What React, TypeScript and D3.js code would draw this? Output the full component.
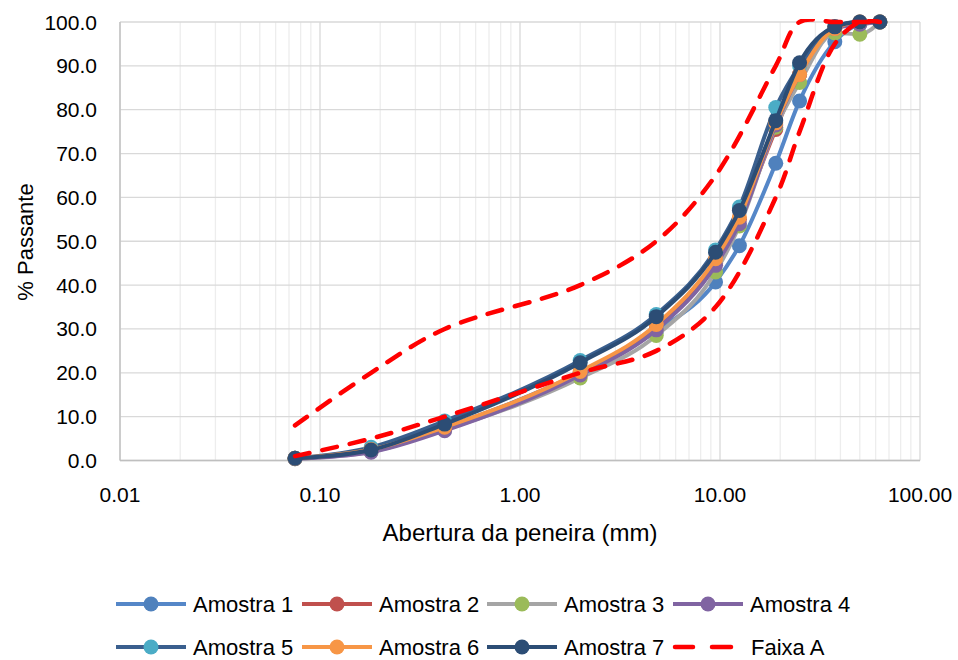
import React from "react";
import * as d3 from "d3";

// sieve openings (mm) and % passing for each sample
const sieves = [0.075, 0.18, 0.42, 2.0, 4.8, 9.5, 12.5, 19, 25, 37.5, 50, 63];
const amostra1 = [0.5, 2.2, 7.5, 20.0, 29.5, 40.7, 49.0, 67.8, 82.0, 95.5, 99.5, 100];
const amostra2 = [0.5, 2.3, 7.5, 20.0, 30.0, 45.0, 55.0, 75.5, 88.0, 98.5, 100, 100];
const amostra3 = [0.4, 2.0, 7.0, 18.8, 28.5, 43.0, 53.5, 76.0, 86.2, 97.5, 97.2, 100];
const amostra4 = [0.4, 1.9, 6.8, 19.5, 29.8, 44.5, 54.0, 76.5, 88.0, 98.5, 99.5, 100];
const amostra5 = [0.5, 3.0, 9.0, 22.8, 33.3, 48.0, 57.8, 80.5, 90.0, 99.0, 100, 100];
const amostra6 = [0.5, 2.5, 7.6, 20.3, 31.0, 46.0, 55.5, 77.0, 88.0, 98.5, 100, 100];
const amostra7 = [0.5, 2.4, 8.3, 22.3, 32.8, 47.5, 57.0, 77.5, 90.7, 98.9, 100, 100];

// Faixa A limits (no value for 12.5 mm)
const faixaSieves = [0.075, 0.18, 0.42, 2.0, 4.8, 9.5, 19, 25, 37.5, 50, 63];
const faixaMax = [8, 20, 30, 40, 50, 65, 90, 100, 100, 100, 100];
const faixaMin = [1, 5, 10, 20, 25, 35, 60, 75, 95, 100, 100];

const yTicks = [0, 10, 20, 30, 40, 50, 60, 70, 80, 90, 100];
const xTicks = [0.01, 0.1, 1, 10, 100];

const series = [
  { name: "Amostra 1", values: amostra1, line: "#5587c8", marker: "#4f81bd" },
  { name: "Amostra 2", values: amostra2, line: "#c0504d", marker: "#c0504d" },
  { name: "Amostra 3", values: amostra3, line: "#a5a5a5", marker: "#9bbb59" },
  { name: "Amostra 4", values: amostra4, line: "#8064a2", marker: "#8064a2" },
  { name: "Amostra 5", values: amostra5, line: "#3a5f8e", marker: "#4bacc6" },
  { name: "Amostra 6", values: amostra6, line: "#f79646", marker: "#f79646" },
  { name: "Amostra 7", values: amostra7, line: "#2c4d75", marker: "#2c4d75" },
];

const FONT = "'Liberation Sans', Arial, sans-serif";

export default function App() {
  const left = 120, right = 920, top = 22, bottom = 460.5;

  const x = d3.scaleLog().domain([0.01, 100]).range([left, right]);
  const y = d3.scaleLinear().domain([0, 100]).range([bottom, top]);

  const line = d3.line<[number, number]>()
    .x(d => x(d[0]))
    .y(d => y(d[1]))
    .curve(d3.curveMonotoneX);
  const smooth = d3.line<[number, number]>()
    .x(d => x(d[0]))
    .y(d => y(d[1]))
    .curve(d3.curveCatmullRom);

  // minor vertical gridlines 2..9 of each decade
  const minor: number[] = [];
  for (let e = -2; e < 2; e++) {
    for (let k = 2; k <= 9; k++) minor.push(k * Math.pow(10, e));
  }

  const legendX = [116, 302, 487, 673];
  const legendY = [604, 647];

  return (
    <div style={{ position: "absolute", left: 0, top: 0 }}>
      <svg width={958} height={660} style={{ display: "block", background: "#fff" }}>
        <defs>
          <clipPath id="plotclip">
            <rect x={left} y={top - 3} width={right - left} height={bottom - top + 6} />
          </clipPath>
        </defs>
        {/* grid */}
        {minor.map((m, i) => (
          <line key={"mn" + i} x1={x(m)} x2={x(m)} y1={top} y2={bottom} stroke="#ededed" strokeWidth={1.3} />
        ))}
        {yTicks.map(t => (
          <line key={"hy" + t} x1={left} x2={right} y1={y(t)} y2={y(t)} stroke="#d9d9d9" strokeWidth={1.3} />
        ))}
        {xTicks.map(t => (
          <line key={"vx" + t} x1={x(t)} x2={x(t)} y1={top} y2={bottom} stroke="#d9d9d9" strokeWidth={1.3} />
        ))}
        <line x1={left} x2={left} y1={top} y2={bottom} stroke="#bfbfbf" strokeWidth={1.3} />
        <line x1={left} x2={right} y1={bottom} y2={bottom} stroke="#bfbfbf" strokeWidth={1.3} />

        {/* tick labels */}
        {yTicks.map(t => (
          <text key={"ty" + t} x={97} y={y(t) + 7.5} textAnchor="end" fontFamily={FONT} fontSize={21} fill="#000">
            {d3.format(".1f")(t)}
          </text>
        ))}
        {xTicks.map(t => (
          <text key={"tx" + t} x={x(t)} y={501.5} textAnchor="middle" fontFamily={FONT} fontSize={21} fill="#000">
            {d3.format(".2f")(t)}
          </text>
        ))}

        {/* axis titles */}
        <text x={520} y={541} textAnchor="middle" fontFamily={FONT} fontSize={24} fill="#000">
          Abertura da peneira (mm)
        </text>
        <text transform="translate(33,242) rotate(-90)" textAnchor="middle" fontFamily={FONT} fontSize={22} fill="#000">
          % Passante
        </text>

        {/* samples */}
        {series.map(s => {
          const pts = sieves.map((d, i) => [d, s.values[i]] as [number, number]);
          return (
            <g key={s.name}>
              <path d={line(pts) || ""} fill="none" stroke={s.line} strokeWidth={4} />
              {pts.map((p, i) => (
                <circle key={i} cx={x(p[0])} cy={y(p[1])} r={7.5} fill={s.marker} />
              ))}
            </g>
          );
        })}

        {/* Faixa A */}
        <g clipPath="url(#plotclip)">
          {[faixaMax, faixaMin].map((vals, k) => (
            <path
              key={"fx" + k}
              d={smooth(faixaSieves.map((d, i) => [d, vals[i]] as [number, number])) || ""}
              fill="none"
              stroke="#ff0000"
              strokeWidth={4.5}
              strokeLinecap="round"
              strokeDasharray="15 13"
            />
          ))}
        </g>

        {/* legend */}
        {series.map((s, i) => {
          const lx = legendX[i % 4];
          const ly = legendY[Math.floor(i / 4)];
          return (
            <g key={"lg" + s.name}>
              <line x1={lx} x2={lx + 70} y1={ly} y2={ly} stroke={s.line} strokeWidth={4} />
              <circle cx={lx + 35} cy={ly} r={7.5} fill={s.marker} />
              <text x={lx + 77} y={ly + 7.5} fontFamily={FONT} fontSize={22} fill="#000">{s.name}</text>
            </g>
          );
        })}
        <g>
          <line x1={legendX[3] + 2} x2={legendX[3] + 20} y1={legendY[1]} y2={legendY[1]} stroke="#ff0000" strokeWidth={4.5} strokeLinecap="round" />
          <line x1={legendX[3] + 39} x2={legendX[3] + 58} y1={legendY[1]} y2={legendY[1]} stroke="#ff0000" strokeWidth={4.5} strokeLinecap="round" />
          <text x={legendX[3] + 78} y={legendY[1] + 7.5} fontFamily={FONT} fontSize={22} fill="#000">Faixa A</text>
        </g>
      </svg>
    </div>
  );
}
